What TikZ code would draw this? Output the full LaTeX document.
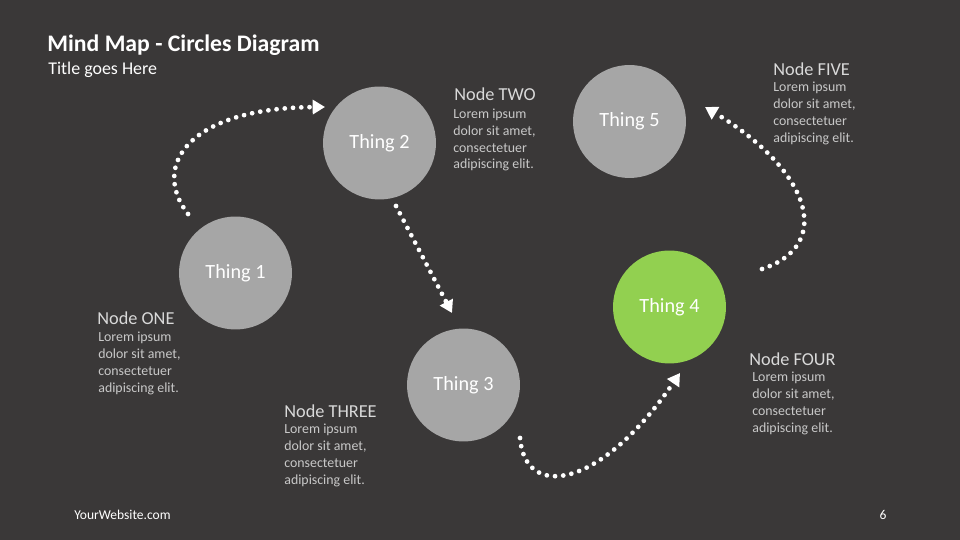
\documentclass[tikz,border=0pt]{standalone}
\usepackage{fontspec}
\setmainfont{Carlito}
\usetikzlibrary{arrows.meta, positioning}
\definecolor{slatebg}{RGB}{58,56,56}
\definecolor{thinggray}{RGB}{166,166,166}
\definecolor{thinggreen}{RGB}{146,208,80}
\definecolor{headgray}{RGB}{217,217,217}
\definecolor{loremgray}{RGB}{200,200,200}

\begin{document}
\begin{tikzpicture}[x=0.02cm, y=-0.02cm,
  >={Triangle[length=7pt, width=8pt]},
  thing/.style={circle, fill=thinggray, minimum size=2.26cm, inner sep=0pt,
    text=white, font=\fontsize{11.5}{13}\selectfont},
  nodehead/.style={anchor=west, inner sep=0pt, text=headgray,
    font=\fontsize{10.4}{12}\selectfont},
  lorem/.style={anchor=west, inner sep=0pt, align=left, text=loremgray,
    font=\fontsize{7.9}{9.6}\selectfont},
  flow/.style={->, white, line width=2.7pt, line cap=round,
    dash pattern=on 0pt off 4.7pt}
]
\fill[slatebg] (0,0) rectangle (960,540);
\useasboundingbox (0,0) rectangle (960,540);
\node[anchor=west, inner sep=0pt, text=white, font=\bfseries\fontsize{13.5}{16}\selectfont]
  (title) at (47,45) {Mind Map - Circles Diagram};
\node[anchor=west, inner sep=0pt, text=white, font=\fontsize{10.2}{12}\selectfont]
  (subtitle) at (48,70) {Title goes Here};
\node[thing] (t1) at (235.5,273) {Thing 1};
\node[thing] (t2) at (379.5,143) {Thing 2};
\node[thing] (t3) at (463.5,385) {Thing 3};
\node[thing, fill=thinggreen] (t4) at (669.5,307) {Thing 4};
\node[thing] (t5) at (629.5,121.5) {Thing 5};
\node[nodehead] (h1) at (97,318) {Node ONE};
\node[lorem] (d1) at (98,363.5) {Lorem ipsum\\dolor sit amet,\\consectetuer\\adipiscing elit.};
\node[nodehead] (h2) at (454,94) {Node TWO};
\node[lorem] (d2) at (453,140) {Lorem ipsum\\dolor sit amet,\\consectetuer\\adipiscing elit.};
\node[nodehead] (h3) at (284,411) {Node THREE};
\node[lorem] (d3) at (284,455.5) {Lorem ipsum\\dolor sit amet,\\consectetuer\\adipiscing elit.};
\node[nodehead] (h4) at (749,359) {Node FOUR};
\node[lorem] (d4) at (752,403.5) {Lorem ipsum\\dolor sit amet,\\consectetuer\\adipiscing elit.};
\node[nodehead] (h5) at (773,69) {Node FIVE};
\node[lorem] (d5) at (773,113.5) {Lorem ipsum\\dolor sit amet,\\consectetuer\\adipiscing elit.};
\node[anchor=west, inner sep=0pt, text=white, font=\fontsize{7.7}{9}\selectfont]
  (site) at (74,515) {YourWebsite.com};
\node[inner sep=0pt, text=white, font=\fontsize{7.7}{9}\selectfont] (page) at (883,515) {6};
\coordinate (a1s) at (188,214);
\coordinate (a1e) at (325,107);
\coordinate (a2s) at (396,206);
\coordinate (a2e) at (452,313);
\coordinate (a3s) at (520,438);
\coordinate (a3e) at (680,373);
\coordinate (a4s) at (762,269);
\coordinate (a4e) at (705,107);
\draw[flow] (a1s) .. controls (150,165) and (190,108) .. (a1e);
\draw[flow] (a2s) -- (a2e);
\draw[flow] (a3s) .. controls (525,500) and (600,490) .. (a3e);
\draw[flow] (a4s) .. controls (835,245) and (810,170) .. (a4e);
\end{tikzpicture}
\end{document}
